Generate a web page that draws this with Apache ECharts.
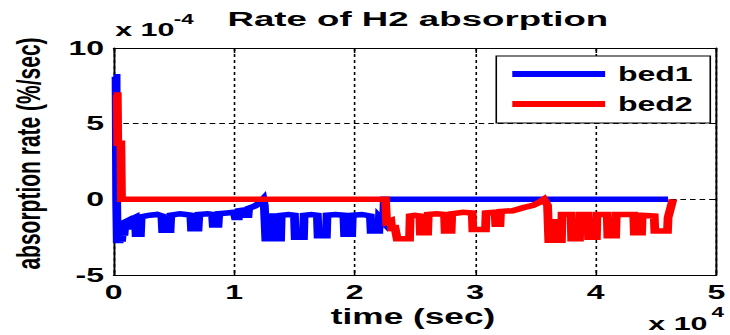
<!DOCTYPE html>
<html>
<head>
<meta charset="utf-8">
<script src="https://cdn.jsdelivr.net/npm/echarts@6/dist/echarts.min.js"></script>
<style>
  html, body { margin: 0; padding: 0; background: #fff; overflow: hidden; }
  #wrap { width: 730px; height: 335px; overflow: hidden; }
  /* the figure is laid out narrow and widened horizontally, like the exported plot */
  #chart { width: 456px; height: 335px; transform: scaleX(1.600877); transform-origin: 0 0; }
</style>
</head>
<body>
<div id="wrap"><div id="chart"></div></div>
<script>
// time in units of 1e4 s, absorption rate in units of 1e-4 %/s
const bed1Time = [0, 0.02, 0.025, 0.03, 0.038, 0.045, 0.055, 0.065, 0.075, 0.085, 0.095, 0.12, 0.13, 0.14, 0.18, 0.186, 0.222, 0.228, 0.30, 0.36, 0.40, 0.406, 0.468, 0.474, 0.55, 0.60, 0.64, 0.646, 0.70, 0.707, 0.78, 0.82, 0.826, 0.866, 0.872, 0.94, 1.0, 1.01, 1.035, 1.04, 1.085, 1.09, 1.115, 1.12, 1.17, 1.21, 1.24, 1.25, 1.262, 1.30, 1.305, 1.33, 1.335, 1.385, 1.39, 1.45, 1.50, 1.506, 1.575, 1.58, 1.64, 1.69, 1.696, 1.765, 1.77, 1.84, 1.91, 1.916, 1.975, 1.98, 2.06, 2.13, 2.136, 2.20, 2.205, 2.24, 2.245, 4.60];
const bed1Rate = [8.1, 8.1, -0.2, -2.9, -2.1, -2.9, -2.0, -2.8, -1.9, -2.4, -1.5, -1.4, -2.0, -1.35, -1.2, -2.3, -2.3, -1.15, -1.05, -1.0, -1.1, -2.05, -2.05, -1.05, -0.95, -1.0, -1.05, -1.95, -1.95, -1.0, -0.95, -1.0, -1.7, -1.7, -0.95, -0.9, -0.85, -1.2, -1.2, -0.75, -0.7, -1.05, -1.05, -0.6, -0.45, -0.25, 0, -0.4, -2.6, -2.6, -1.1, -1.1, -2.6, -2.6, -1.05, -1.0, -1.05, -2.5, -2.5, -1.05, -1.0, -1.05, -2.4, -2.4, -1.05, -1.0, -1.05, -2.3, -2.3, -1.05, -1.0, -1.1, -2.1, -2.1, -1.2, -1.5, 0, 0];

const bed2Time = [0, 0.03, 0.034, 0.06, 0.065, 2.255, 2.265, 2.30, 2.31, 2.33, 2.352, 2.455, 2.46, 2.50, 2.54, 2.545, 2.605, 2.61, 2.68, 2.745, 2.75, 2.80, 2.805, 2.90, 2.975, 2.98, 3.085, 3.09, 3.165, 3.17, 3.205, 3.21, 3.31, 3.40, 3.48, 3.53, 3.57, 3.60, 3.61, 3.66, 3.665, 3.675, 3.715, 3.72, 3.795, 3.80, 3.865, 3.87, 3.935, 3.94, 4.005, 4.01, 4.095, 4.10, 4.165, 4.17, 4.315, 4.32, 4.38, 4.385, 4.485, 4.49, 4.595, 4.60, 4.64];
const bed2Rate = [6.9, 6.9, 3.7, 3.7, 0, 0, -1.5, -1.4, -2.1, -1.7, -2.6, -2.6, -1.1, -1.05, -1.1, -2.2, -2.2, -1.0, -0.95, -1.0, -2.1, -2.1, -0.95, -0.85, -0.9, -2.0, -2.0, -0.9, -0.85, -1.65, -1.65, -0.8, -0.75, -0.55, -0.4, -0.2, 0, -0.4, -2.7, -2.7, -1.3, -2.7, -2.7, -1.0, -1.0, -2.6, -2.6, -1.0, -1.0, -2.5, -2.5, -1.0, -1.0, -2.4, -2.4, -1.0, -1.0, -2.2, -2.2, -1.05, -1.1, -2.1, -2.1, -1.2, 0];

const xTicks = { min: 0, max: 5, step: 1 };
const yTicks = { min: -5, max: 10, step: 5 };

const seriesNames = ['bed1', 'bed2'];
const seriesColors = ['#0000ff', '#ff0000'];

const FONT = '"Liberation Sans", Arial, Helvetica, sans-serif';

const pairs = (ts, vs) => ts.map((t, i) => [t, vs[i]]);

const chart = echarts.init(document.getElementById('chart'), null, { renderer: 'svg' });

const frameAxis = {
  axisLine: { show: true, onZero: false, lineStyle: { color: '#000', width: 1.2 } },
  axisTick: { show: true, inside: true, length: 5, lineStyle: { color: '#000', width: 1 } }
};
const yTickStyle = { axisTick: { show: true, inside: true, length: 4, lineStyle: { color: '#000', width: 1 } } };

chart.setOption({
  backgroundColor: '#fff',
  animation: false,
  grid: { left: 71, right: 5, top: 48, bottom: 60, containLabel: false },
  xAxis: [
    Object.assign({
      type: 'value', min: xTicks.min, max: xTicks.max, interval: xTicks.step, position: 'bottom',
      axisLabel: { show: true, color: '#000', fontFamily: FONT, fontWeight: 'bold', fontSize: 20, margin: 7 },
      splitLine: { show: true, lineStyle: { color: '#000', width: 1, type: [3, 3] } }
    }, frameAxis),
    Object.assign({
      type: 'value', min: xTicks.min, max: xTicks.max, interval: xTicks.step, position: 'top',
      axisLabel: { show: false }, splitLine: { show: false }
    }, frameAxis)
  ],
  yAxis: [
    Object.assign({
      type: 'value', min: yTicks.min, max: yTicks.max, interval: yTicks.step, position: 'left',
      axisLabel: { show: true, color: '#000', fontFamily: FONT, fontWeight: 'bold', fontSize: 20, margin: 6 },
      splitLine: { show: true, lineStyle: { color: '#000', width: 1, type: [3.5, 2.5] } }
    }, frameAxis, yTickStyle),
    Object.assign({
      type: 'value', min: yTicks.min, max: yTicks.max, interval: yTicks.step, position: 'right',
      axisLabel: { show: false }, splitLine: { show: false }
    }, frameAxis, yTickStyle)
  ],
  legend: {
    orient: 'vertical',
    left: 310,
    top: 56,
    padding: [8, 11, 9, 10],
    itemWidth: 58,
    itemHeight: 6,
    itemGap: 10,
    icon: 'rect',
    backgroundColor: '#fff',
    borderColor: '#000',
    borderWidth: 1,
    borderRadius: 0,
    textStyle: { color: '#000', fontFamily: FONT, fontWeight: 'bold', fontSize: 20, lineHeight: 20, padding: [0, 0, 0, 3] },
    data: seriesNames
  },
  series: [
    {
      name: seriesNames[0], type: 'line', data: pairs(bed1Time, bed1Rate),
      showSymbol: false, symbol: 'none', color: seriesColors[0],
      lineStyle: { color: seriesColors[0], width: 5.5, join: 'miter' }, z: 3
    },
    {
      name: seriesNames[1], type: 'line', data: pairs(bed2Time, bed2Rate),
      showSymbol: false, symbol: 'none', color: seriesColors[1],
      lineStyle: { color: seriesColors[1], width: 5.5, join: 'miter' }, z: 4
    }
  ],
  graphic: [
    { type: 'text', x: 261, y: 18.5, scaleX: 1.09,
      style: { text: 'Rate of H2 absorption', font: 'bold 21px ' + FONT, fill: '#000', textAlign: 'center', textVerticalAlign: 'middle' } },
    { type: 'text', x: 18, y: 153.5, rotation: Math.PI / 2,
      style: { text: 'absorption rate (%/sec)', font: 'bold 21px ' + FONT, fill: '#000', textAlign: 'center', textVerticalAlign: 'middle' } },
    { type: 'text', x: 258, y: 316.5,
      style: { text: 'time (sec)', font: 'bold 22px ' + FONT, fill: '#000', textAlign: 'center', textVerticalAlign: 'middle' } },
    { type: 'text', x: 72, y: 29.5,
      style: { text: 'x 10', font: 'bold 19px ' + FONT, fill: '#000', textAlign: 'left', textVerticalAlign: 'middle' } },
    { type: 'text', x: 108.5, y: 19,
      style: { text: '-4', font: 'bold 14px ' + FONT, fill: '#000', textAlign: 'left', textVerticalAlign: 'middle' } },
    { type: 'text', x: 405, y: 323.5,
      style: { text: 'x 10', font: 'bold 19px ' + FONT, fill: '#000', textAlign: 'left', textVerticalAlign: 'middle' } },
    { type: 'text', x: 444.5, y: 312,
      style: { text: '4', font: 'bold 14px ' + FONT, fill: '#000', textAlign: 'left', textVerticalAlign: 'middle' } }
  ]
});
</script>
</body>
</html>
